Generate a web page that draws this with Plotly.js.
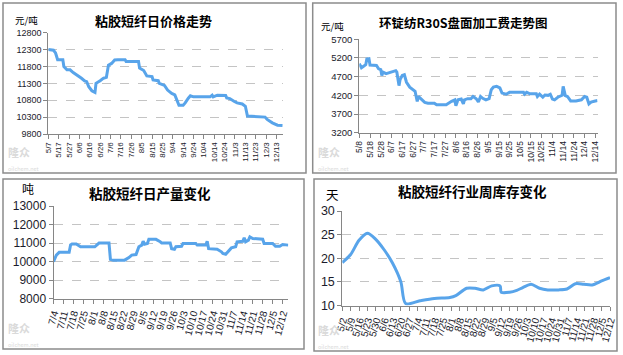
<!DOCTYPE html>
<html>
<head>
<meta charset="utf-8">
<script src="https://cdn.plot.ly/plotly-3.0.1.min.js"></script>
<style>html,body{margin:0;padding:0;background:#fff;}#chart{width:623px;height:355px;}</style>
</head>
<body>
<div id="chart"></div>
<script>
// ---------- Data ----------
// Panel 1: 粘胶短纤日价格 (元/吨)
const priceDates = ["2019-05-07","2019-05-12","2019-05-14","2019-05-16","2019-05-21","2019-05-22","2019-05-25","2019-05-28","2019-05-31","2019-06-05",
  "2019-06-08","2019-06-11","2019-06-13","2019-06-15","2019-06-18","2019-06-21","2019-06-22","2019-06-26","2019-06-29","2019-07-02",
  "2019-07-04","2019-07-07","2019-07-10","2019-07-13","2019-07-20","2019-07-21","2019-08-02","2019-08-03","2019-08-07","2019-08-10",
  "2019-08-15","2019-08-16","2019-08-21","2019-08-22","2019-08-27","2019-08-30","2019-09-03","2019-09-06","2019-09-08","2019-09-10",
  "2019-09-14","2019-09-16","2019-09-19","2019-09-21","2019-09-24","2019-10-10","2019-10-12","2019-10-13","2019-10-17","2019-10-25",
  "2019-10-26","2019-10-29","2019-11-02","2019-11-05","2019-11-10","2019-11-13","2019-11-15","2019-12-02","2019-12-04","2019-12-09",
  "2019-12-14","2019-12-19"];
const priceValues = [12300,12280,12200,12000,12000,11800,11700,11700,11620,11520,
  11450,11370,11350,11200,11080,11030,11300,11380,11450,11480,
  11840,11890,11990,12000,12000,11950,11950,11750,11680,11520,
  11500,11400,11380,11300,11240,11100,11000,10960,10820,10650,
  10650,10720,10860,10930,10900,10900,10950,10900,10950,10940,
  10870,10850,10770,10720,10690,10620,10330,10300,10230,10130,
  10060,10050];

// Panel 2: 环锭纺R30S盘面加工费 (元/吨)
const feeDates = ["2019-05-08","2019-05-10","2019-05-12","2019-05-14","2019-05-15","2019-05-17","2019-05-18","2019-05-24","2019-05-26","2019-05-28",
  "2019-05-29","2019-05-30","2019-06-02","2019-06-05","2019-06-08","2019-06-11","2019-06-12","2019-06-14","2019-06-15","2019-06-17",
  "2019-06-19","2019-06-21","2019-06-24","2019-06-26","2019-06-29","2019-06-30","2019-07-01","2019-07-02","2019-07-05","2019-07-08",
  "2019-07-11","2019-07-17","2019-07-19","2019-07-28","2019-08-02","2019-08-05","2019-08-06","2019-08-08","2019-08-11","2019-08-13",
  "2019-08-14","2019-08-17","2019-08-20","2019-08-22","2019-08-25","2019-08-27","2019-08-29","2019-08-31","2019-09-03","2019-09-06",
  "2019-09-08","2019-09-10","2019-09-13","2019-09-16","2019-09-18","2019-09-22","2019-09-25","2019-10-08","2019-10-09","2019-10-11",
  "2019-10-14","2019-10-20","2019-10-21","2019-10-23","2019-10-26","2019-10-28","2019-10-31","2019-11-02","2019-11-04","2019-11-06",
  "2019-11-09","2019-11-13","2019-11-14","2019-11-16","2019-11-18","2019-11-21","2019-11-26","2019-12-01","2019-12-04","2019-12-06",
  "2019-12-08","2019-12-10","2019-12-13","2019-12-16"];
const feeValues = [5050,4940,4980,5020,5170,5180,5010,5000,4910,4890,
  4730,4820,4780,4800,4840,4860,4820,4460,4620,4730,
  4750,4550,4420,4370,4310,4170,4040,4170,4100,4010,
  3990,3990,3950,3950,4040,4080,3920,4080,4100,3970,
  4080,4110,4110,4170,4110,4020,4170,4120,4080,4110,
  4350,4420,4440,4400,4260,4230,4280,4280,4230,4280,
  4240,4240,4170,4230,4150,4210,4200,4230,4100,4080,
  4150,4200,4440,4190,4170,4050,4050,4080,4170,4150,
  3970,4020,4040,4060];

// Panel 3: 粘胶短纤日产量 (吨)
const outputDates = ["2019-07-04","2019-07-06","2019-07-08","2019-07-15","2019-07-16","2019-07-17","2019-07-20","2019-07-22","2019-07-23","2019-08-02",
  "2019-08-04","2019-08-05","2019-08-12","2019-08-13","2019-08-15","2019-08-23","2019-08-26","2019-08-28","2019-08-31","2019-09-02",
  "2019-09-04","2019-09-05","2019-09-06","2019-09-08","2019-09-09","2019-09-14","2019-09-17","2019-09-18","2019-09-24","2019-09-25",
  "2019-09-27","2019-09-28","2019-10-02","2019-10-03","2019-10-12","2019-10-13","2019-10-19","2019-10-20","2019-10-21","2019-10-27",
  "2019-10-30","2019-10-31","2019-11-02","2019-11-04","2019-11-06","2019-11-09","2019-11-10","2019-11-14","2019-11-15","2019-11-16",
  "2019-11-18","2019-11-19","2019-11-21","2019-11-28","2019-11-29","2019-12-05","2019-12-07","2019-12-10","2019-12-12","2019-12-16"];
const outputValues = [10000,10350,10500,10500,10900,10950,10950,10850,10800,10800,
  10950,11000,11000,10120,10080,10080,10220,10350,10380,10800,
  10890,11100,10940,10980,11200,11200,11070,11010,11010,10700,
  10670,10800,10830,10980,10980,10890,10890,11100,10700,10670,
  10530,10440,10400,10560,10740,10800,11070,11100,11290,11070,
  11160,11340,11250,11210,10980,10980,10830,10830,10920,10890];

// Panel 4: 粘胶短纤行业周库存 (天)
const stockDates = ["2019-05-02","2019-05-09","2019-05-16","2019-05-23","2019-05-30","2019-06-06","2019-06-13","2019-06-20","2019-06-24","2019-07-06",
  "2019-07-18","2019-07-31","2019-08-05","2019-08-14","2019-08-21","2019-08-28","2019-09-04","2019-09-11","2019-09-12","2019-09-19",
  "2019-09-25","2019-09-30","2019-10-07","2019-10-14","2019-10-21","2019-10-30","2019-11-06","2019-11-13","2019-11-20","2019-11-27",
  "2019-12-05","2019-12-12"];
const stockValues = [19.1,20.8,23.8,25.3,24.0,21.8,19.0,15.0,10.4,11.0,
  11.5,11.7,12.1,13.65,13.65,13.3,14.15,14.15,12.8,12.8,
  13.2,13.8,14.5,13.65,13.3,13.3,13.5,14.6,14.5,14.35,
  15.2,15.9];

// ---------- Layout helpers ----------
const W = 623, H = 355;
const fx = x => x / W;
const fy = y => 1 - y / H;
const LINE = "rgb(88,164,234)";
const AX = "#868686";
const GRID = "#C4C4C4";
const TICKC = "#1b1b2b";
const DAY = 86400000;

function xAxis(x0, x1, anchor, range, tick0, dtick, angle, fsize) {
  return {
    domain: [fx(x0), fx(x1)], anchor: anchor, type: "date", range: range,
    tick0: tick0, dtick: dtick, tickformat: "%-m/%-d", tickangle: angle,
    tickfont: {family: "Liberation Sans, Arial, sans-serif", size: fsize, color: TICKC},
    showline: true, linecolor: AX, linewidth: 1, ticks: "outside", ticklen: 4, tickcolor: AX,
    showgrid: false, zeroline: false, fixedrange: true
  };
}
function yAxis(y0, y1, anchor, range, dtick, fsize) {
  return {
    domain: [fy(y1), fy(y0)], anchor: anchor, range: range, tick0: range[0], dtick: dtick,
    tickformat: "d",
    tickfont: {family: "Liberation Sans, Arial, sans-serif", size: fsize, color: TICKC},
    showline: true, linecolor: AX, linewidth: 1, ticks: "outside", ticklen: 4, tickcolor: AX,
    showgrid: true, gridcolor: GRID, griddash: "dash", gridwidth: 1, zeroline: false, fixedrange: true
  };
}

const traces = [
  {x: priceDates, y: priceValues, xaxis: "x", yaxis: "y", mode: "lines", line: {color: LINE, width: 3}, hoverinfo: "skip"},
  {x: feeDates, y: feeValues, xaxis: "x2", yaxis: "y2", mode: "lines", line: {color: LINE, width: 3}, hoverinfo: "skip"},
  {x: outputDates, y: outputValues, xaxis: "x3", yaxis: "y3", mode: "lines", line: {color: LINE, width: 3}, hoverinfo: "skip"},
  {x: stockDates, y: stockValues, xaxis: "x4", yaxis: "y4", mode: "lines", line: {color: LINE, width: 3, shape: "spline", smoothing: 0.8}, hoverinfo: "skip"}
];

const CJK = "Noto Sans CJK SC, sans-serif";
function txt(x, y, s, size, bold, color, anchor) {
  return {xref: "paper", yref: "paper", x: fx(x), y: fy(y), text: bold ? "<b>" + s + "</b>" : s,
    showarrow: false, xanchor: anchor || "center", yanchor: "middle", borderpad: 0,
    font: {family: CJK, size: size, color: color || "#000"}};
}
function border(x0, y0, x1, y1) {
  return {type: "rect", xref: "paper", yref: "paper", x0: fx(x0), x1: fx(x1), y0: fy(y1), y1: fy(y0),
    line: {color: "#8c8c8c", width: 1.5}, fillcolor: "rgba(0,0,0,0)"};
}
function mark(x, y) {
  const a = txt(x, y, "<b>隆众</b><br><span style='font-size:5.5px'>oilchem.net</span>", 11, false, "#dadada", "left");
  a.align = "left";
  return [a];
}

const layout = {
  width: W, height: H, margin: {l: 0, r: 0, t: 0, b: 0},
  paper_bgcolor: "#fff", plot_bgcolor: "#fff", showlegend: false,
  xaxis: xAxis(48.3, 282.7, "y", ["2019-05-07", "2019-12-19"], "2019-05-07", 10 * DAY, -90, 8),
  yaxis: yAxis(32.7, 134, "x", [9800, 12800], 500, 9),
  xaxis2: xAxis(359.3, 597.5, "y2", ["2019-05-08", "2019-12-16"], "2019-05-08", 10 * DAY, -90, 8.5),
  yaxis2: yAxis(39.3, 132.7, "x2", [3200, 5700], 500, 9.5),
  xaxis3: xAxis(53.5, 288.3, "y3", ["2019-07-04", "2019-12-16"], "2019-07-04", 7 * DAY, -75, 10),
  yaxis3: yAxis(206, 298.7, "x3", [8000, 13000], 1000, 12),
  xaxis4: xAxis(342.3, 610, "y4", ["2019-05-02", "2019-12-12"], "2019-05-02", 7 * DAY, -75, 10),
  yaxis4: yAxis(211, 305.5, "x4", [10, 30], 5, 12.5),
  shapes: [border(3, 3, 306, 173), border(312.7, 3, 616, 173), border(3, 179, 304, 349), border(314, 179, 617, 351)],
  annotations: [
    txt(153, 20, "粘胶短纤日价格走势", 13, true),
    txt(27, 20, "元/吨", 9.5, false),
    txt(463, 22, "环锭纺R30S盘面加工费走势图", 12.5, true),
    txt(332, 26, "元/吨", 9.5, false),
    txt(150, 193, "粘胶短纤日产量变化", 13.5, true),
    txt(28, 189, "吨", 12, false),
    txt(472, 191, "粘胶短纤行业周库存变化", 13.5, true),
    txt(332, 194, "天", 12.5, false)
  ].concat(mark(7, 158), mark(317, 158), mark(7, 334), mark(317, 336))
};

Plotly.newPlot("chart", traces, layout, {displayModeBar: false, staticPlot: true});
</script>
</body>
</html>
